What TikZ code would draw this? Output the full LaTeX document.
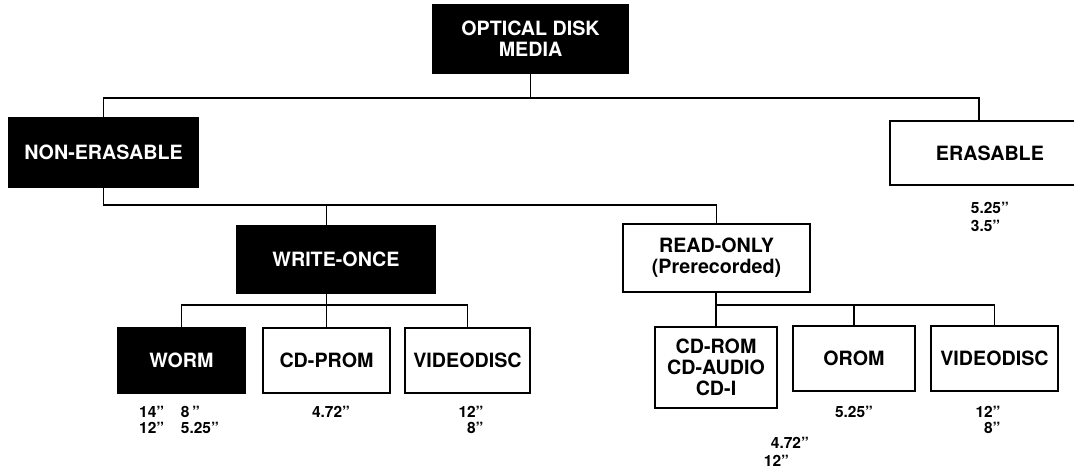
\documentclass[tikz,border=0pt]{standalone}
\usepackage{fontspec}
\setmainfont{TeX Gyre Heros}
\usepackage{tikz}
\usetikzlibrary{calc}

\begin{document}
\begin{tikzpicture}[x=0.025cm, y=-0.025cm, line width=1.3pt,
    font=\bfseries\fontsize{14}{15}\selectfont,
    dims/.style 2 args={minimum width=#1*0.025cm, minimum height=#2*0.025cm},
    dark/.style={draw=black, fill=black, text=white, inner sep=0pt, align=center},
    light/.style={draw=black, fill=white, inner sep=0pt, align=center},
    note/.style={font=\bfseries\fontsize{11}{11}\selectfont, inner sep=0pt}]
    \useasboundingbox (0,0) rectangle (1074,475);
    % levels of the three horizontal bars
    \coordinate (top) at (0,98);
    \coordinate (mid) at (0,205);
    \coordinate (low) at (0,305);
    % boxes
    \node[dark, dims={195}{68}] (media) at (530.5,39) {OPTICAL DISK\\MEDIA};
    \node[dark, dims={189}{69}] (nonerase) at (103.5,152.5) {NON-ERASABLE};
    \node[light, dims={200}{64}, anchor=west] (erase) at (889,153) {ERASABLE};
    \node[dark, dims={198}{67}] (wonce) at (336,259.5) {WRITE-ONCE};
    \node[light, dims={187}{68}] (rdonly) at (716.5,258) {READ-ONLY\\(Prerecorded)};
    \node[dark, dims={127}{65}] (worm) at (181.5,360.5) {WORM};
    \node[light, dims={127}{65}] (cdprom) at (326.5,360.5) {CD-PROM};
    \node[light, dims={125}{65}] (vdiscw) at (467.5,360.5) {VIDEODISC};
    \node[light, dims={122}{81}] (cdrom) at (716,367.5) {CD-ROM\\CD-AUDIO\\CD-I};
    \node[light, dims={122}{65}] (orom) at (854,358.5) {OROM};
    \node[light, dims={127}{65}] (vdiscr) at (994.5,358.5) {VIDEODISC};
    \coordinate (etap) at ($(erase.north)+(-11,0)$);
    % connectors
    \draw (media.south) -- (media.south |- top);
    \draw (nonerase.north) |- (etap |- top) -- (etap);
    \draw (nonerase.south) |- (rdonly.north |- mid) -- (rdonly.north);
    \draw (cdprom.north |- mid) -- (cdprom.north |- wonce.north);
    \draw (cdprom.north |- wonce.south) -- (cdprom.north);
    \draw (worm.north) |- (vdiscw.north |- low) -- (vdiscw.north);
    \draw (rdonly.south -| cdrom.north) -- (cdrom.north);
    \draw (cdrom.north |- low) -| (vdiscr.north);
    \draw (orom.north |- low) -- (orom.north);
    % disc sizes
    \node[note, align=left] (wormsz) at (179,420) {14''\hspace{12pt}8\,''\\12''\hspace{12pt}5.25''};
    \node[note] (cdpromsz) at (331,412) {4.72''};
    \node[note, align=right] (vdiscwsz) at (471,420) {12''\\8''};
    \node[note, align=left, anchor=north west] (erasesz) at (970,201) {5.25''\\[2pt]3.5''};
    \node[note, align=left, anchor=north west] (cdromsz) at (763,436) {\hspace{5pt}4.72''\\[2pt]12''};
    \node[note] (oromsz) at (854,412) {5.25''};
    \node[note, align=right] (vdiscrsz) at (988,420) {12''\\8''};
  \end{tikzpicture}
\end{document}
